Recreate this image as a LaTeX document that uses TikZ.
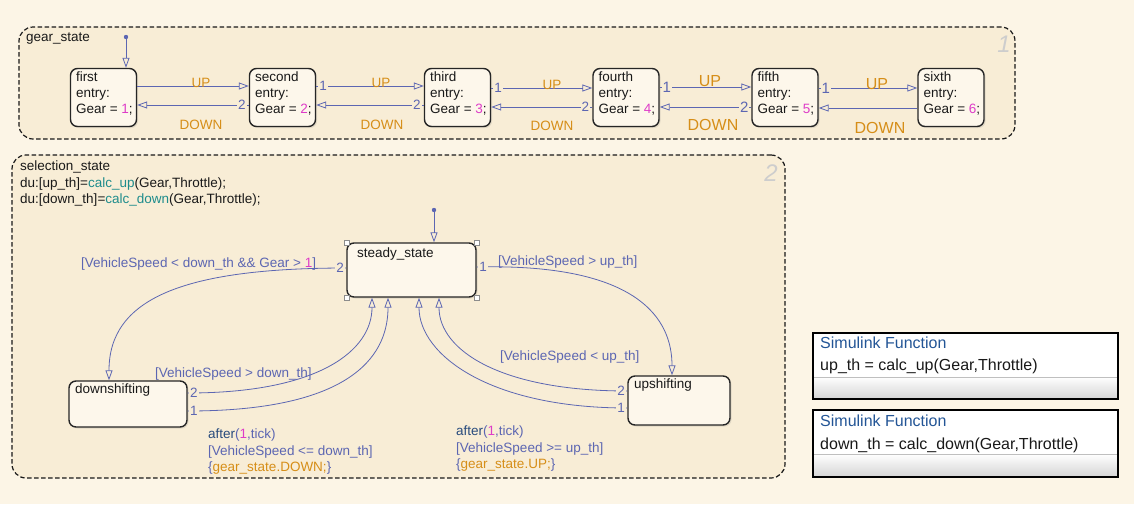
\documentclass[tikz,border=0pt]{standalone}
\usepackage{fontspec}
\setmainfont{Liberation Sans}
\usetikzlibrary{arrows.meta,shadows}
\definecolor{bgc}{RGB}{252,245,230}
\definecolor{contc}{RGB}{248,237,214}
\definecolor{stc}{RGB}{253,247,235}
\definecolor{trc}{RGB}{92,102,178}
\definecolor{orc}{RGB}{214,142,24}
\definecolor{mgc}{RGB}{222,60,200}
\definecolor{tlc}{RGB}{30,140,140}
\definecolor{kwc}{RGB}{40,75,125}
\definecolor{sfc}{RGB}{35,85,150}
\definecolor{txc}{RGB}{25,25,25}
\definecolor{nmc}{RGB}{205,205,205}
\newcommand\gearst[3]{%
  \node[st, minimum width=66pt, minimum height=58pt] (#1) at (#2,97.5) {};
  \node[anchor=base west] (#1a) at ([xshift=6pt,yshift=-14pt]#1.north west) {#1};
  \node[anchor=base west] (#1b) at ([xshift=6pt,yshift=-30pt]#1.north west) {entry:};
  \node[anchor=base west] (#1c) at ([xshift=6pt,yshift=-46pt]#1.north west) {Gear = \textcolor{mgc}{#3};};
}
\begin{document}
\begin{tikzpicture}[x=1pt,y=-1pt,
  every node/.style={font=\fontsize{13.5}{16}\selectfont, text=txc, inner sep=0pt},
  cont/.style={draw=black!90, dash pattern=on 4.5pt off 2.5pt, line width=1.2pt, rounded corners=14pt, fill=contc},
  st/.style={draw=black!85, line width=1.4pt, rounded corners=7pt, fill=stc, drop shadow={opacity=0.2,shadow xshift=1.5pt,shadow yshift=-1.5pt}},
  tr/.style={draw=trc, line width=0.8pt, -{Triangle[open,length=10pt,width=7pt]}},
  trl/.style={text=trc},
  num/.style={text=trc, fill=contc, inner sep=1pt},
  evt/.style={text=orc},
  bigevt/.style={text=orc, font=\fontsize{16}{16}\selectfont},
  handle/.style={draw=black!45, fill=white, line width=0.5pt, minimum size=5pt, inner sep=0pt},
  cnum/.style={text=nmc, font=\itshape\fontsize{24}{24}\selectfont},
  sftitle/.style={text=sfc, font=\fontsize{16}{16}\selectfont, anchor=base west},
  sftext/.style={font=\fontsize{16}{16}\selectfont, anchor=base west}
]
\useasboundingbox (0,0) rectangle (1134,504);
\fill[bgc] (0,0) rectangle (1134,504);

% ---------------- gear_state ----------------
\node[cont, minimum width=996pt, minimum height=112pt] (gear) at (517,83) {};
\node[anchor=base west] (gearlbl) at (26,41) {gear\_state};
\node[cnum] (gearnum) at (1004,44) {1};

\gearst{first}{103.5}{1}
\gearst{second}{282.5}{2}
\gearst{third}{457.5}{3}
\gearst{fourth}{626}{4}
\gearst{fifth}{785}{5}
\gearst{sixth}{951}{6}

\fill[trc] (126,37) circle (2.2pt) coordinate (gearinit);
\draw[tr] (gearinit) -- (first.north -| 126,0);

% first <-> second
\draw[tr] (first.east |- 0,86) -- (second.west |- 0,86);
\draw[tr] (second.west |- 0,105) -- (first.east |- 0,105);
\node[evt, anchor=base] (up1) at (201,87) {UP};
\node[evt, anchor=base] (dn1) at (201,129) {DOWN};
\node[num] (n2a) at ([xshift=-7pt]second.west |- 0,105) {2};
% second <-> third
\draw[tr] (second.east |- 0,86) -- (third.west |- 0,86);
\draw[tr] (third.west |- 0,105) -- (second.east |- 0,105);
\node[num] (n1b) at ([xshift=7pt]second.east |- 0,86) {1};
\node[num] (n2b) at ([xshift=-7pt]third.west |- 0,105) {2};
\node[evt, anchor=base] (up2) at (381,87) {UP};
\node[evt, anchor=base] (dn2) at (382,129) {DOWN};
% third <-> fourth
\draw[tr] (third.east |- 0,88) -- (fourth.west |- 0,88);
\draw[tr] (fourth.west |- 0,107) -- (third.east |- 0,107);
\node[num] (n1c) at ([xshift=7pt]third.east |- 0,88) {1};
\node[num] (n2c) at ([xshift=-7pt]fourth.west |- 0,107) {2};
\node[evt, anchor=base] (up3) at (552,89) {UP};
\node[evt, anchor=base] (dn3) at (552,130) {DOWN};
% fourth <-> fifth
\draw[tr] (fourth.east |- 0,87) -- (fifth.west |- 0,87);
\draw[tr] (fifth.west |- 0,107) -- (fourth.east |- 0,107);
\node[num, font=\fontsize{15}{15}\selectfont] (n1d) at ([xshift=7pt]fourth.east |- 0,87) {1};
\node[num, font=\fontsize{15}{15}\selectfont] (n2d) at ([xshift=-7pt]fifth.west |- 0,107) {2};
\node[bigevt, anchor=base] (up4) at (710,86) {UP};
\node[bigevt, anchor=base] (dn4) at (713,130) {DOWN};
% fifth <-> sixth
\draw[tr] (fifth.east |- 0,88) -- (sixth.west |- 0,88);
\draw[tr] (sixth.west |- 0,108) -- (fifth.east |- 0,108);
\node[num, font=\fontsize{15}{15}\selectfont] (n1e) at ([xshift=7pt]fifth.east |- 0,88) {1};
\node[bigevt, anchor=base] (up5) at (877,89) {UP};
\node[bigevt, anchor=base] (dn5) at (880,133) {DOWN};

% ---------------- selection_state ----------------
\node[cont, minimum width=773pt, minimum height=323pt] (sel) at (398.5,316.5) {};
\node[cnum] (selnum) at (771,173) {2};
\node[anchor=base west] (sell1) at (20,170) {selection\_state};
\node[anchor=base west] (sell2) at (20,187) {du:[up\_th]=\textcolor{tlc}{calc\_up}(Gear,Throttle);};
\node[anchor=base west] (sell3) at (20,203) {du:[down\_th]=\textcolor{tlc}{calc\_down}(Gear,Throttle);};

\node[st, minimum width=129pt, minimum height=54pt] (steady) at (411.5,270) {};
\node[anchor=base west] (steadyt) at (357,257) {steady\_state};
\node[handle] (h1) at (steady.north west) {};
\node[handle] (h2) at (steady.north east) {};
\node[handle] (h3) at (steady.south west) {};
\node[handle] (h4) at (steady.south east) {};

\node[st, minimum width=118pt, minimum height=46pt] (downs) at (128,404) {};
\node[anchor=base west] (downst) at (75,393) {downshifting};
\node[st, minimum width=102pt, minimum height=49pt] (ups) at (679,400.5) {};
\node[anchor=base west] (upst) at (634,388) {upshifting};

\fill[trc] (434,210) circle (2.2pt) coordinate (selinit);
\draw[tr] (selinit) -- (steady.north -| 434,0);

% steady -> downshifting
\draw[tr] (steady.west |- 0,268) .. controls (180,268) and (109,300) .. (downs.north -| 109,0);
\node[num] (sn2) at (340,268) {2};
\node[trl, anchor=base west] (l1) at (81,267) {[VehicleSpeed < down\_th \&\& Gear > \textcolor{mgc}{1}]};
% steady -> upshifting
\draw[tr] (steady.east |- 0,267) .. controls (640,263) and (672,320) .. (ups.north -| 672,0);
\node[num] (sn1) at (483,267) {1};
\node[trl, anchor=base west] (l2) at (498,265) {[VehicleSpeed > up\_th]};
% downshifting -> steady
\draw[tr] (downs.east |- 0,393) .. controls (320,393) and (372,350) .. (steady.south -| 372,0);
\draw[tr] (downs.east |- 0,411) .. controls (360,411) and (388,350) .. (steady.south -| 388,0);
\node[num] (dn2l) at (194,393) {2};
\node[num] (dn1l) at (194,411) {1};
\node[trl, anchor=base west] (l3) at (155,377) {[VehicleSpeed > down\_th]};
\node[trl, anchor=base west] (l4a) at (208,438) {\textcolor{kwc}{after}(\textcolor{mgc}{1},tick)};
\node[trl, anchor=base west] (l4b) at (208,455) {[VehicleSpeed <= down\_th]};
\node[trl, anchor=base west] (l4c) at (208,471) {\{\textcolor{orc}{gear\_state.DOWN;}\}};
% upshifting -> steady
\draw[tr] (ups.west |- 0,391) .. controls (500,391) and (439,350) .. (steady.south -| 439,0);
\draw[tr] (ups.west |- 0,408) .. controls (490,408) and (419,355) .. (steady.south -| 419,0);
\node[num] (up2l) at (621,391) {2};
\node[num] (up1l) at (621,408) {1};
\node[trl, anchor=base west] (l5) at (500,360) {[VehicleSpeed < up\_th]};
\node[trl, anchor=base west] (l6a) at (456,435) {\textcolor{kwc}{after}(\textcolor{mgc}{1},tick)};
\node[trl, anchor=base west] (l6b) at (456,452) {[VehicleSpeed >= up\_th]};
\node[trl, anchor=base west] (l6c) at (456,468) {\{\textcolor{orc}{gear\_state.UP;}\}};

% ---------------- Simulink functions ----------------
\node[fill=white, minimum width=305pt, minimum height=66pt] (sf1) at (965.5,366) {};
\shade[top color=white, bottom color=black!17] (sf1.west |- 0,377) rectangle (sf1.south east);
\draw[black!25, line width=0.6pt] (sf1.west |- 0,377) -- (sf1.east |- 0,377);
\draw[black, line width=2pt] (sf1.north west) rectangle (sf1.south east);
\node[sftitle] (sf1a) at (820,348) {Simulink Function};
\node[sftext] (sf1b) at (820,370) {up\_th = calc\_up(Gear,Throttle)};

\node[fill=white, minimum width=305pt, minimum height=67pt] (sf2) at (965.5,443.5) {};
\shade[top color=white, bottom color=black!17] (sf2.west |- 0,454) rectangle (sf2.south east);
\draw[black!25, line width=0.6pt] (sf2.west |- 0,454) -- (sf2.east |- 0,454);
\draw[black, line width=2pt] (sf2.north west) rectangle (sf2.south east);
\node[sftitle] (sf2a) at (820,426) {Simulink Function};
\node[sftext] (sf2b) at (820,449) {down\_th = calc\_down(Gear,Throttle)};
\end{tikzpicture}
\end{document}
